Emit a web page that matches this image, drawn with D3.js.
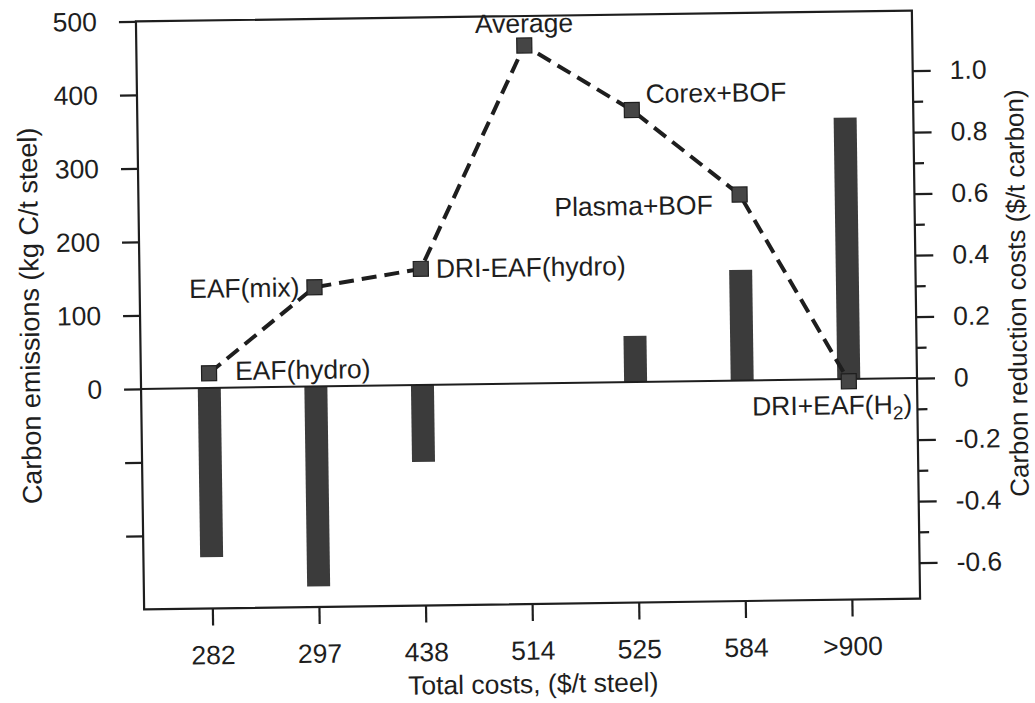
<!DOCTYPE html>
<html>
<head>
<meta charset="utf-8">
<script src="https://cdn.jsdelivr.net/npm/d3@7"></script>
<style>
  html, body { margin: 0; padding: 0; background: #ffffff; }
  svg { display: block; }
  text { font-family: "Liberation Sans", Arial, Helvetica, sans-serif; fill: #1e1e1e; }
</style>
</head>
<body>
<svg id="chart" width="1035" height="703"></svg>
<script>
// Total cost categories along the bottom axis ($/t steel)
const costLabels = ["282", "297", "438", "514", "525", "584", ">900"];
// Steelmaking routes named next to each emission point
const technologies = ["EAF(hydro)", "EAF(mix)", "DRI-EAF(hydro)", "Average", "Corex+BOF", "Plasma+BOF", "DRI+EAF(H2)"];
// Carbon emissions, kg C/t steel (left axis, dashed line)
const emissions = [20, 135, 158, 460, 370, 253, -3];
// Carbon reduction costs, $/t carbon (right axis, bars); no bar for the average
const reductionCosts = [-0.55, -0.65, -0.25, null, 0.15, 0.36, 0.85];
// Axis ticks
const leftTicks = [-200, -100, 0, 100, 200, 300, 400, 500];
const rightMajorTicks = [-0.6, -0.4, -0.2, 0, 0.2, 0.4, 0.6, 0.8, 1.0];
const rightMinorTicks = [-0.5, -0.3, -0.1, 0.1, 0.3, 0.5, 0.7, 0.9];

// Where each route name sits relative to its marker: [dx, dy, anchor]
const labelPlacement = [
  [26, 7, "start"],
  [-15, 9, "end"],
  [15, 9, "start"],
  [0, -13, "middle"],
  [14, -7, "start"],
  [-27, 19, "end"],
  [63, 33, "end"]
];

const svg = d3.select("#chart");
const frame = { left: 140, right: 916, top: 16, bottom: 604 };
const ink = "#1e1e1e";
const fontSize = 26.5;

// the whole figure sits slightly tilted on the page
const g = svg.append("g").attr("transform", "rotate(-0.8, 528, 310)");

const x = d3.scalePoint()
  .domain(costLabels)
  .range([frame.left, frame.right])
  .padding(0.64);

const yLeft = d3.scaleLinear().domain([-300, 500]).range([frame.bottom, frame.top]);
const yRight = d3.scaleLinear().domain([-0.717, 1.195]).range([frame.bottom, frame.top]);

// plain hyphen for negative numbers
const fmtRight = d => d === 0 ? "0" : d3.format(".1f")(d).replace("\u2212", "-");

// bars: carbon reduction costs
const barWidth = 23;
g.append("g").selectAll("rect")
  .data(costLabels.map((c, i) => ({ c, v: reductionCosts[i] })).filter(d => d.v !== null))
  .join("rect")
  .attr("x", d => x(d.c) - barWidth / 2)
  .attr("width", barWidth)
  .attr("y", d => yRight(Math.max(0, d.v)))
  .attr("height", d => Math.abs(yRight(d.v) - yRight(0)))
  .attr("fill", "#3b3b3b");

// zero line across the plot
g.append("line")
  .attr("x1", frame.left).attr("x2", frame.right)
  .attr("y1", yLeft(0)).attr("y2", yLeft(0))
  .attr("stroke", ink).attr("stroke-width", 2);

// frame
g.append("rect")
  .attr("x", frame.left).attr("y", frame.top)
  .attr("width", frame.right - frame.left).attr("height", frame.bottom - frame.top)
  .attr("fill", "none").attr("stroke", ink).attr("stroke-width", 2.2);

// left axis
const leftAxis = d3.axisLeft(yLeft)
  .tickValues(leftTicks)
  .tickSize(17)
  .tickPadding(22)
  .tickFormat(d => d >= 0 ? d3.format("d")(d) : "");
const la = g.append("g").attr("transform", `translate(${frame.left},0)`).call(leftAxis);

// right axis: labelled majors and short minors
const rightAxis = d3.axisRight(yRight)
  .tickValues(rightMajorTicks)
  .tickSize(18)
  .tickPadding(19)
  .tickFormat(fmtRight);
const ra = g.append("g").attr("transform", `translate(${frame.right},0)`).call(rightAxis);
const rm = g.append("g").attr("transform", `translate(${frame.right},0)`)
  .call(d3.axisRight(yRight).tickValues(rightMinorTicks).tickSize(10).tickFormat(""));

// bottom axis
const bottomAxis = d3.axisBottom(x).tickSize(17).tickPadding(20);
const ba = g.append("g").attr("transform", `translate(0,${frame.bottom})`).call(bottomAxis);

[la, ra, rm, ba].forEach(a => {
  a.select(".domain").remove();
  a.selectAll(".tick line").attr("stroke", ink).attr("stroke-width", 2.2);
  a.selectAll(".tick text")
    .attr("fill", ink)
    .style("font-size", fontSize + "px")
    .style("font-family", '"Liberation Sans", Arial, sans-serif');
});

// axis titles
g.append("text")
  .attr("transform", `translate(39,309) rotate(-90)`)
  .attr("text-anchor", "middle")
  .style("font-size", "27px")
  .text("Carbon emissions (kg C/t steel)");

g.append("text")
  .attr("transform", `translate(1026,300) rotate(-90)`)
  .attr("text-anchor", "middle")
  .style("font-size", "26px")
  .text("Carbon reduction costs ($/t carbon)");

g.append("text")
  .attr("x", 528).attr("y", 693)
  .attr("text-anchor", "middle")
  .style("font-size", fontSize + "px")
  .text("Total costs, ($/t steel)");

// dashed emission line
const pts = costLabels.map((c, i) => ({ c, v: emissions[i], name: technologies[i], place: labelPlacement[i] }));
g.append("path")
  .datum(pts)
  .attr("d", d3.line().x(d => x(d.c)).y(d => yLeft(d.v)))
  .attr("fill", "none")
  .attr("stroke", ink)
  .attr("stroke-width", 4)
  .attr("stroke-dasharray", "15 8");

// square markers
const ms = 15;
g.append("g").selectAll("rect")
  .data(pts)
  .join("rect")
  .attr("x", d => x(d.c) - ms / 2)
  .attr("y", d => yLeft(d.v) - ms / 2)
  .attr("width", ms).attr("height", ms)
  .attr("fill", "#454545")
  .attr("stroke", ink).attr("stroke-width", 1.2);

// route names
const lbl = g.append("g").selectAll("text")
  .data(pts)
  .join("text")
  .attr("x", d => x(d.c) + d.place[0])
  .attr("y", d => yLeft(d.v) + d.place[1])
  .attr("text-anchor", d => d.place[2])
  .style("font-size", fontSize + "px");

lbl.each(function(d) {
  const t = d3.select(this);
  const m = d.name.match(/^(.*)H2\)$/);
  if (m) {
    t.append("tspan").text(m[1] + "H");
    t.append("tspan").attr("dy", 6).style("font-size", "19px").text("2");
    t.append("tspan").attr("dy", -6).text(")");
  } else {
    t.text(d.name);
  }
});
</script>
</body>
</html>
